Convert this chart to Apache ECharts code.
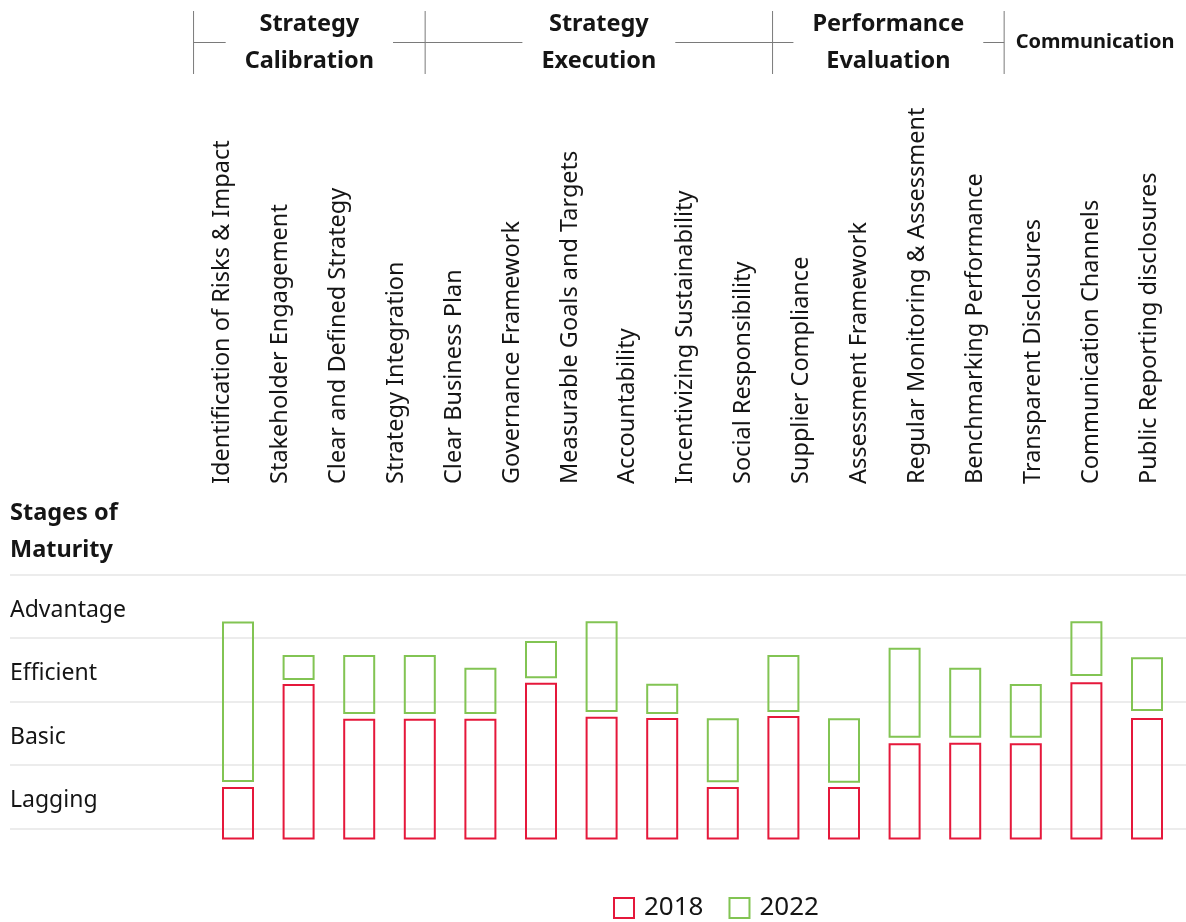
<!DOCTYPE html>
<html>
<head>
<meta charset="utf-8">
<script src="https://cdn.jsdelivr.net/npm/echarts@6/dist/echarts.min.js"></script>
<style>
  html, body { margin: 0; padding: 0; background: #ffffff; }
  #chart { width: 1186px; height: 922px; }
</style>
</head>
<body>
<div id="chart"></div>
<script>
// Maturity practices, grouped into four pillars
const categories = [
  'Identification of Risks & Impact', 'Stakeholder Engagement', 'Clear and Defined Strategy',
  'Strategy Integration', 'Clear Business Plan', 'Governance Framework',
  'Measurable Goals and Targets', 'Accountability', 'Incentivizing Sustainability',
  'Social Responsibility', 'Supplier Compliance', 'Assessment Framework',
  'Regular Monitoring & Assessment', 'Benchmarking Performance', 'Transparent Disclosures',
  'Communication Channels', 'Public Reporting disclosures'
];
const groupNames = ['Strategy\nCalibration', 'Strategy\nExecution', 'Performance\nEvaluation', 'Communication'];
const groupSizes = [4, 6, 4, 3];

// Maturity stages, bottom to top (one band per stage)
const stages = ['Lagging', 'Basic', 'Efficient', 'Advantage'];

// Scores on the stage scale (0 = bottom of Lagging, 4 = top of Advantage)
const scoreFloor = -0.16;
const score2018 = [0.635, 2.257, 1.71, 1.71, 1.71, 2.277, 1.742, 1.72, 0.635, 1.753, 0.635, 1.323, 1.332, 1.323, 2.283, 1.72, 2.277];
const start2022 = [0.745, 2.35, 1.816, 1.816, 1.816, 2.378, 1.847, 1.816, 0.74, 1.847, 0.734, 1.443, 1.443, 1.443, 2.414, 1.863, 2.39];
const score2022 = [3.24, 2.715, 2.715, 2.715, 2.513, 2.934, 3.244, 2.261, 1.717, 2.715, 1.717, 2.828, 2.513, 2.257, 3.244, 2.677, 3.3];

const RED = '#e5183b';
const GREEN = '#82c453';
const TEXT = '#151515';
const FONT = '"Noto Sans", "Open Sans", sans-serif';

const BAR_W = 30;
const PLOT_TOP = 574.3, PLOT_BOTTOM = 922 - 828.3;
// practice slots: first slot centre and slot pitch of the box row
const SLOT_LEFT = 238, SLOT_PITCH = 60.6;

const redData = categories.map((c, i) => [i, scoreFloor, score2018[i]]);
const greenData = categories.map((c, i) => [i, start2022[i], score2022[i]]);

function boxRenderer(color) {
  return function (params, api) {
    const x = api.value(0);
    const top = api.coord([x, api.value(2)]);
    const bottom = api.coord([x, api.value(1)]);
    return {
      type: 'rect',
      shape: { x: top[0] - BAR_W / 2, y: top[1], width: BAR_W, height: bottom[1] - top[1] },
      style: { fill: 'none', stroke: color, lineWidth: 2 }
    };
  };
}

const chart = echarts.init(document.getElementById('chart'), null, { renderer: 'canvas' });

const option = {
  animation: false,
  backgroundColor: '#ffffff',
  textStyle: { fontFamily: FONT },
  grid: [
    // stage bands with full-width rules
    { left: 10, right: 0, top: PLOT_TOP, bottom: PLOT_BOTTOM },
    // boxes (row runs past the right edge)
    { left: SLOT_LEFT, right: 0, top: PLOT_TOP, bottom: PLOT_BOTTOM },
    // rotated practice names
    { left: 193.55, width: 17 * 57.9, top: 490, height: 10 }
  ],
  xAxis: [
    { gridIndex: 0, type: 'value', show: false },
    { gridIndex: 1, type: 'value', min: 0, max: (1186 - SLOT_LEFT) / SLOT_PITCH, show: false },
    {
      gridIndex: 2, type: 'category', data: categories, position: 'top',
      axisLine: { show: false }, axisTick: { show: false },
      axisLabel: { rotate: 90, margin: 6, interval: 0, fontSize: 23.5, color: TEXT, fontFamily: FONT }
    }
  ],
  yAxis: [
    {
      gridIndex: 0, type: 'category', data: stages, boundaryGap: true,
      axisLine: { show: false }, axisTick: { show: false },
      axisLabel: {
        inside: true, margin: 0, formatter: '{s|{value}}',
        rich: { s: { fontSize: 23, color: TEXT, fontFamily: FONT, padding: [8, 0, 0, 0] } }
      },
      splitLine: { show: true, lineStyle: { color: '#e6e6e6', width: 1.5 } }
    },
    { gridIndex: 1, type: 'value', min: 0, max: 4, show: false },
    { gridIndex: 2, type: 'value', show: false }
  ],
  legend: {
    left: 613, top: 895, padding: 0, itemWidth: 20, itemHeight: 20, itemGap: 25,
    textStyle: { fontSize: 26, color: TEXT, fontFamily: FONT, padding: [0, 0, 0, 5] },
    data: [
      { name: '2018', icon: 'rect', itemStyle: { color: '#ffffff', borderColor: RED, borderWidth: 2 } },
      { name: '2022', icon: 'rect', itemStyle: { color: '#ffffff', borderColor: GREEN, borderWidth: 2 } }
    ]
  },
  series: [
    {
      name: '2018', type: 'custom', xAxisIndex: 1, yAxisIndex: 1, clip: false,
      itemStyle: { color: '#ffffff', borderColor: RED, borderWidth: 2 },
      renderItem: boxRenderer(RED), encode: { x: 0, y: [1, 2] }, data: redData
    },
    {
      name: '2022', type: 'custom', xAxisIndex: 1, yAxisIndex: 1, clip: false,
      itemStyle: { color: '#ffffff', borderColor: GREEN, borderWidth: 2 },
      renderItem: boxRenderer(GREEN), encode: { x: 0, y: [1, 2] }, data: greenData
    }
  ]
};

chart.setOption(option);

// Pillar headers: brackets sit on the boundaries of the name axis
const measureCtx = document.createElement('canvas').getContext('2d');
function textWidth(str, font) {
  measureCtx.font = font;
  return Math.max.apply(null, str.split('\n').map(s => measureCtx.measureText(s).width));
}

const c0 = chart.convertToPixel({ xAxisIndex: 2 }, categories[0]);
const c1 = chart.convertToPixel({ xAxisIndex: 2 }, categories[1]);
const band = c1 - c0;
const LINE_Y = 42.5, GAP = 19;
const HEADER_SIZE = 23.5;
const headerFont = 'bold ' + HEADER_SIZE + 'px "Noto Sans"';
const elements = [];
let startIdx = 0;
groupSizes.forEach((size, g) => {
  const left = c0 - band / 2 + startIdx * band;
  const isLast = g === groupSizes.length - 1;
  const right = isLast ? 1186 : left + size * band;
  const center = (left + right) / 2;
  const fs = isLast ? 20 : HEADER_SIZE;
  elements.push({
    type: 'line', shape: { x1: left, y1: 11, x2: left, y2: 74 },
    style: { stroke: '#7a7a7a', lineWidth: 1 }
  });
  elements.push({
    type: 'text', x: center, y: LINE_Y,
    style: {
      text: groupNames[g], fill: TEXT, font: 'bold ' + fs + 'px ' + FONT,
      align: 'center', verticalAlign: 'middle', lineHeight: 37
    }
  });
  if (!isLast) {
    const half = textWidth(groupNames[g], headerFont) / 2;
    elements.push({
      type: 'line', shape: { x1: left, y1: LINE_Y, x2: center - half - GAP, y2: LINE_Y },
      style: { stroke: '#7a7a7a', lineWidth: 1 }
    });
    elements.push({
      type: 'line', shape: { x1: center + half + GAP, y1: LINE_Y, x2: right, y2: LINE_Y },
      style: { stroke: '#7a7a7a', lineWidth: 1 }
    });
  }
  startIdx += size;
});

elements.push({
  type: 'text', x: 10, y: 532,
  style: {
    text: 'Stages of\nMaturity', fill: TEXT, font: 'bold ' + HEADER_SIZE + 'px ' + FONT,
    align: 'left', verticalAlign: 'middle', lineHeight: 37
  }
});

chart.setOption({ graphic: { elements: elements } });
</script>
</body>
</html>
